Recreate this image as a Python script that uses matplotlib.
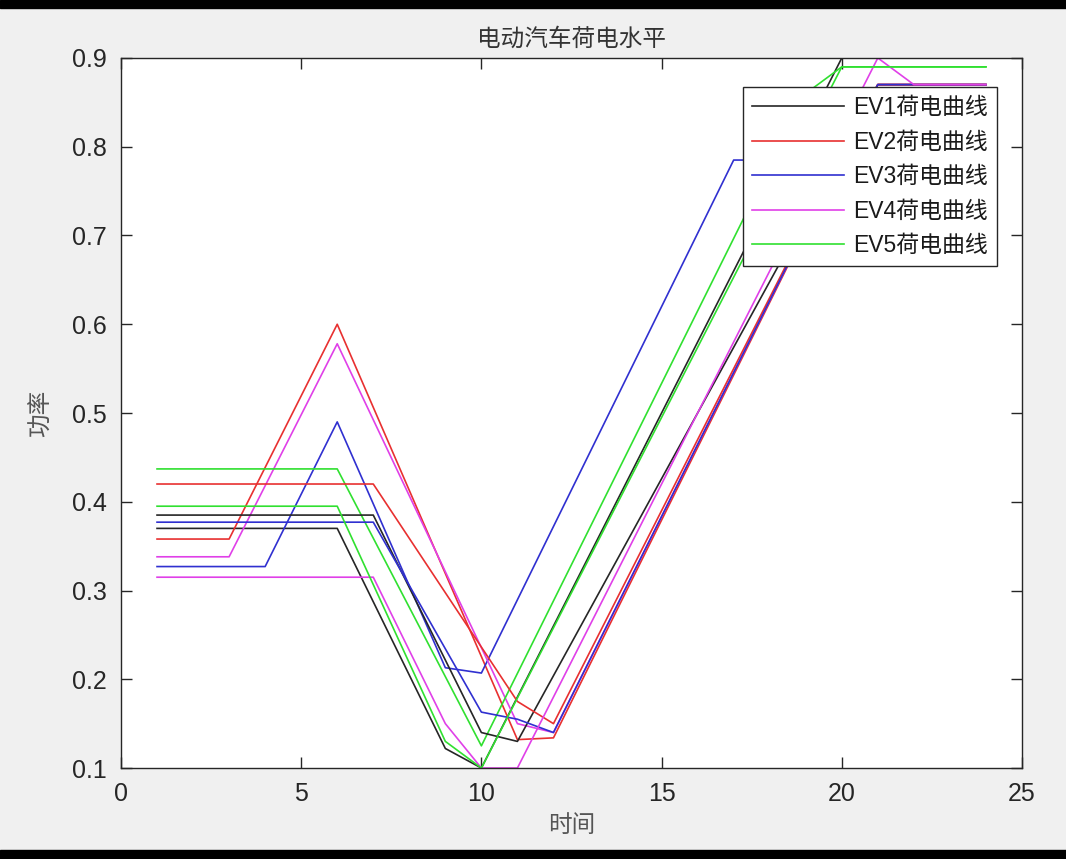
import matplotlib
matplotlib.use("Agg")
import matplotlib.pyplot as plt
from matplotlib.patches import Rectangle

plt.rcParams['font.family'] = ['Liberation Sans', 'Noto Sans CJK SC', 'DejaVu Sans']

# vertices of each SOC curve (hour, level)
ev1_x = [1, 6, 9, 10, 20, 24]
ev1_y = [0.37, 0.37, 0.122, 0.1, 0.9, 0.9]
ev2_x = [1, 3, 6, 11, 12, 21, 24]
ev2_y = [0.358, 0.358, 0.6, 0.132, 0.134, 0.87, 0.87]
ev3_x = [1, 4, 6, 9, 10, 17, 24]
ev3_y = [0.327, 0.327, 0.49, 0.213, 0.207, 0.785, 0.785]
ev4_x = [1, 3, 6, 11, 12, 21, 24]
ev4_y = [0.338, 0.338, 0.578, 0.15, 0.14, 0.87, 0.87]
ev5_x = [1, 6, 10, 19, 20, 24]
ev5_y = [0.437, 0.437, 0.125, 0.86, 0.89, 0.89]

ev6_x = [1, 7, 10, 11, 21, 24]
ev6_y = [0.385, 0.385, 0.14, 0.13, 0.87, 0.87]
ev7_x = [1, 7, 11, 12, 21, 24]
ev7_y = [0.42, 0.42, 0.175, 0.15, 0.87, 0.87]
ev8_x = [1, 7, 10, 11, 12, 21, 24]
ev8_y = [0.377, 0.377, 0.163, 0.155, 0.14, 0.87, 0.87]
ev9_x = [1, 7, 9, 10, 11, 21, 22, 24]
ev9_y = [0.315, 0.315, 0.15, 0.1, 0.1, 0.9, 0.87, 0.87]
ev10_x = [1, 6, 9, 10, 20, 24]
ev10_y = [0.395, 0.395, 0.13, 0.1, 0.89, 0.89]

labels = ["EV1荷电曲线", "EV2荷电曲线", "EV3荷电曲线", "EV4荷电曲线", "EV5荷电曲线"]
colors = ["#262626", "#e83030", "#3030d0", "#e040e8", "#30e030"]

series = [
    (ev1_x, ev1_y), (ev2_x, ev2_y), (ev3_x, ev3_y), (ev4_x, ev4_y), (ev5_x, ev5_y),
    (ev6_x, ev6_y), (ev7_x, ev7_y), (ev8_x, ev8_y), (ev9_x, ev9_y), (ev10_x, ev10_y),
]

fig = plt.figure(figsize=(10.66, 8.59), dpi=100, facecolor="#f0f0f0")
ax = fig.add_axes([0.1135, 0.1059, 0.8452, 0.8266])

handles = []
for i, (xs, ys) in enumerate(series):
    h, = ax.plot(xs, ys, color=colors[i % 5], linewidth=1.2)
    if i < 5:
        handles.append(h)

ax.set_xlim(0, 25)
ax.set_ylim(0.1, 0.9)
ax.set_xticks([0, 5, 10, 15, 20, 25])
ax.set_yticks([0.1, 0.2, 0.3, 0.4, 0.5, 0.6, 0.7, 0.8, 0.9])
ax.set_yticklabels(["0.1", "0.2", "0.3", "0.4", "0.5", "0.6", "0.7", "0.8", "0.9"])
ax.tick_params(direction="in", length=8, width=1, top=True, right=True,
               labelsize=18, colors="#262626", pad=10)
for s in ax.spines.values():
    s.set_color("#262626")
    s.set_linewidth(1)

cjk = ['Noto Sans CJK SC', 'DejaVu Sans']
ax.set_title("电动汽车荷电水平", fontsize=17, color="#333333", pad=9, family=cjk)
ax.set_xlabel("时间", fontsize=17, color="#555555", labelpad=6, family=cjk)
ax.set_ylabel("功率", fontsize=17, color="#555555", labelpad=14, family=cjk)

leg = ax.legend(handles, labels, loc="upper right", bbox_to_anchor=(0.972, 0.959),
                borderaxespad=0, fontsize=16.5, handlelength=4.0, handletextpad=0.4,
                labelspacing=0.5, borderpad=0.4,
                frameon=True, fancybox=False, framealpha=1, edgecolor="#262626")
leg.get_frame().set_linewidth(1)
for t in leg.get_texts():
    t.set_color("#1a1a1a")

# black screen borders top and bottom
fig.patches.append(Rectangle((0, 0.991), 1, 0.009, transform=fig.transFigure,
                             color="black", zorder=10))
fig.patches.append(Rectangle((0, 0), 1, 0.01, transform=fig.transFigure,
                             color="black", zorder=10))

plt.savefig("out.png", dpi=100, facecolor=fig.get_facecolor())
